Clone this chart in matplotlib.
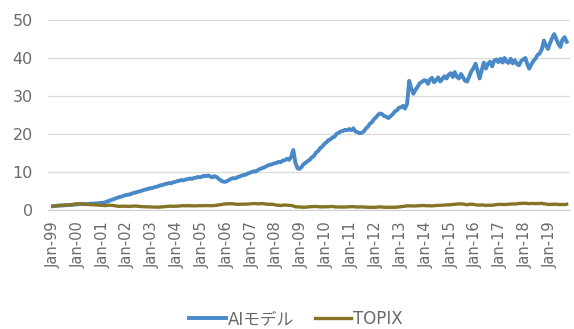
import matplotlib
matplotlib.use("Agg")
import matplotlib.pyplot as plt
import matplotlib.dates as mdates
import pandas as pd
from datetime import datetime

# Monthly observations, Jan 1999 - Sep 2019 (cumulative value, start = 1)
months = pd.date_range("1999-01-01", "2019-09-01", freq="MS")

ai_model = [
    # 1999
    1.00, 1.05, 1.10, 1.15, 1.20, 1.20, 1.25, 1.30, 1.30, 1.35, 1.40, 1.45,
    # 2000
    1.50, 1.55, 1.60, 1.60, 1.55, 1.60, 1.65, 1.70, 1.70, 1.75, 1.80, 1.85,
    # 2001
    1.90, 2.00, 2.20, 2.40, 2.60, 2.80, 3.00, 3.20, 3.40, 3.50, 3.70, 3.90,
    # 2002
    4.00, 4.10, 4.30, 4.50, 4.60, 4.80, 4.90, 5.10, 5.30, 5.40, 5.60, 5.70,
    # 2003
    5.80, 6.00, 6.10, 6.30, 6.50, 6.60, 6.80, 6.90, 7.10, 7.00, 7.30, 7.40,
    # 2004
    7.60, 7.70, 7.90, 7.80, 8.00, 8.10, 8.30, 8.20, 8.40, 8.50, 8.70, 8.60,
    # 2005
    8.80, 9.00, 8.90, 9.10, 8.80, 8.60, 8.90, 8.70, 8.20, 7.80, 7.50, 7.40,
    # 2006
    7.60, 7.90, 8.20, 8.40, 8.30, 8.60, 8.80, 9.00, 9.20, 9.30, 9.60, 9.80,
    # 2007
    10.0, 10.2, 10.1, 10.5, 10.8, 11.0, 11.2, 11.5, 11.8, 11.9, 12.1, 12.3,
    # 2008
    12.4, 12.7, 12.6, 13.0, 13.1, 13.5, 13.2, 14.0, 15.8, 12.5, 11.0, 10.8,
    # 2009
    11.3, 12.1, 12.4, 12.9, 13.2, 13.9, 14.2, 15.1, 15.5, 16.3, 16.7, 17.4,
    # 2010
    17.8, 18.4, 18.6, 19.1, 19.3, 20.1, 20.3, 20.7, 20.8, 21.1, 21.0, 21.3,
    # 2011
    21.0, 21.5, 20.7, 20.5, 20.2, 20.3, 20.6, 21.4, 21.9, 22.7, 23.1, 23.9,
    # 2012
    24.4, 25.1, 25.4, 25.2, 24.7, 24.5, 24.2, 24.7, 25.2, 25.9, 26.2, 26.9,
    # 2013
    27.0, 27.4, 26.7, 28.0, 34.0, 32.0, 30.6, 31.6, 32.4, 33.3, 33.7, 34.1,
    # 2014
    34.1, 33.2, 34.3, 34.8, 33.6, 34.2, 34.9, 33.8, 34.5, 35.2, 34.6, 35.6,
    # 2015
    36.0, 35.0, 36.3, 35.1, 34.6, 35.8, 34.9, 34.0, 33.8, 35.2, 36.5, 37.3,
    # 2016
    38.5, 36.6, 34.6, 36.8, 38.8, 37.2, 38.5, 39.0, 37.8, 39.3, 39.6, 38.9,
    # 2017
    39.8, 38.8, 40.0, 39.0, 38.7, 39.8, 38.6, 39.4, 38.4, 38.1, 39.2, 39.6,
    # 2018
    40.0, 38.3, 37.2, 38.4, 39.2, 39.9, 40.8, 41.2, 42.3, 44.6, 43.2, 42.4,
    # 2019
    44.0, 45.3, 46.3, 45.0, 43.8, 42.9, 44.8, 45.5, 44.3,
]

topix = [
    # 1999
    1.00, 1.02, 1.14, 1.20, 1.18, 1.26, 1.32, 1.29, 1.32, 1.37, 1.45, 1.62,
    # 2000
    1.60, 1.62, 1.60, 1.55, 1.45, 1.48, 1.38, 1.42, 1.35, 1.32, 1.28, 1.24,
    # 2001
    1.22, 1.15, 1.18, 1.27, 1.25, 1.21, 1.10, 1.02, 0.95, 0.99, 0.99, 0.99,
    # 2002
    0.93, 0.94, 1.01, 1.04, 1.04, 0.97, 0.93, 0.90, 0.89, 0.83, 0.85, 0.80,
    # 2003
    0.78, 0.77, 0.75, 0.74, 0.79, 0.85, 0.90, 0.97, 0.98, 1.00, 0.95, 1.00,
    # 2004
    1.02, 1.03, 1.12, 1.14, 1.10, 1.14, 1.10, 1.11, 1.08, 1.09, 1.11, 1.14,
    # 2005
    1.12, 1.16, 1.15, 1.11, 1.12, 1.14, 1.17, 1.23, 1.35, 1.39, 1.52, 1.58,
    # 2006
    1.64, 1.62, 1.65, 1.63, 1.52, 1.51, 1.49, 1.54, 1.52, 1.54, 1.55, 1.60,
    # 2007
    1.64, 1.70, 1.66, 1.63, 1.67, 1.69, 1.64, 1.54, 1.53, 1.54, 1.49, 1.40,
    # 2008
    1.25, 1.27, 1.17, 1.27, 1.31, 1.27, 1.24, 1.18, 1.07, 0.86, 0.81, 0.82,
    # 2009
    0.75, 0.72, 0.74, 0.79, 0.87, 0.89, 0.92, 0.93, 0.87, 0.85, 0.80, 0.86,
    # 2010
    0.86, 0.85, 0.92, 0.92, 0.84, 0.80, 0.81, 0.77, 0.79, 0.77, 0.83, 0.85,
    # 2011
    0.86, 0.90, 0.81, 0.80, 0.79, 0.81, 0.80, 0.74, 0.73, 0.72, 0.69, 0.69,
    # 2012
    0.72, 0.79, 0.82, 0.78, 0.70, 0.73, 0.71, 0.70, 0.71, 0.71, 0.75, 0.82,
    # 2013
    0.90, 0.94, 1.00, 1.09, 1.07, 1.07, 1.08, 1.04, 1.12, 1.12, 1.17, 1.20,
    # 2014
    1.12, 1.12, 1.12, 1.08, 1.14, 1.19, 1.22, 1.21, 1.27, 1.28, 1.34, 1.36,
    # 2015
    1.37, 1.47, 1.49, 1.55, 1.62, 1.57, 1.59, 1.46, 1.37, 1.50, 1.52, 1.48,
    # 2016
    1.38, 1.28, 1.31, 1.30, 1.32, 1.18, 1.25, 1.26, 1.26, 1.32, 1.41, 1.47,
    # 2017
    1.46, 1.47, 1.46, 1.47, 1.54, 1.57, 1.58, 1.58, 1.63, 1.72, 1.74, 1.76,
    # 2018
    1.78, 1.70, 1.65, 1.73, 1.70, 1.68, 1.71, 1.69, 1.77, 1.60, 1.61, 1.45,
    # 2019
    1.48, 1.51, 1.51, 1.53, 1.43, 1.46, 1.46, 1.42, 1.51,
]

series_names = ["AIモデル", "TOPIX"]
y_ticks = [0, 10, 20, 30, 40, 50]

BLUE = "#4a89c8"
OLIVE = "#857425"
TEXT = "#6a6a6a"
GRID = "#dcdcdc"

W, H = 574, 329
fig = plt.figure(figsize=(W / 100, H / 100), dpi=100)
fig.patch.set_facecolor("white")

left_px, right_px, top_px, bottom_px = 48, 570, 20, 210
ax = fig.add_axes([left_px / W, 1 - bottom_px / H,
                   (right_px - left_px) / W, (bottom_px - top_px) / H])

ax.plot(months, ai_model, color=BLUE, lw=2.8, label=series_names[0],
        solid_joinstyle="round", zorder=3)
ax.plot(months, topix, color=OLIVE, lw=2.4, label=series_names[1],
        solid_joinstyle="round", zorder=4)

ax.set_ylim(0, 50)
ax.set_yticks(y_ticks)
ax.set_xlim(datetime(1998, 10, 20), datetime(2019, 10, 20))

ax.xaxis.set_major_locator(mdates.YearLocator(1, month=1, day=1))
ax.xaxis.set_major_formatter(mdates.DateFormatter("%b-%y"))

ax.grid(axis="y", color=GRID, lw=1.0)
ax.set_axisbelow(True)
for side in ["top", "right", "left"]:
    ax.spines[side].set_visible(False)
ax.spines["bottom"].set_color("#d0d0d0")

ax.tick_params(axis="y", length=0, pad=11, labelsize=11.5, labelcolor=TEXT)
ax.tick_params(axis="x", length=0, pad=8, labelsize=10.5, labelcolor=TEXT,
               labelrotation=90)

leg = fig.legend(loc="center", bbox_to_anchor=(296 / W, 1 - 319 / H), ncol=2,
                 frameon=False, handlelength=2.2, handletextpad=0.12,
                 columnspacing=1.25,
                 prop={"family": ["DejaVu Sans", "Noto Sans CJK JP"], "size": 12})
for t in leg.get_texts():
    t.set_color(TEXT)

fig.savefig("out.png", dpi=100, facecolor="white")
